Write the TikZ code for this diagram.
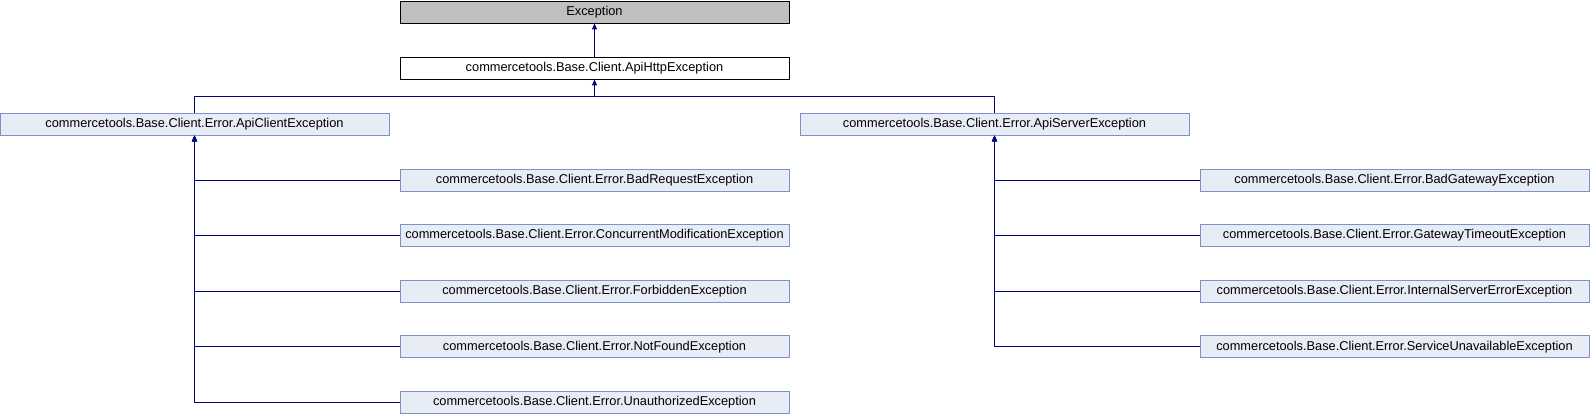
\documentclass[tikz,border=0pt]{standalone}
\usepackage{fontspec}
\setmainfont{Liberation Sans}
\usetikzlibrary{arrows.meta}
\definecolor{clsfill}{RGB}{232, 236, 245}
\definecolor{clsdraw}{RGB}{124, 146, 201}
\definecolor{basefill}{RGB}{191, 191, 191}
\definecolor{edgeblue}{RGB}{0, 0, 128}

\begin{document}
\begin{tikzpicture}[
  x=1pt, y=-1pt,
  every node/.style={font=\fontsize{12.8}{14}\selectfont, minimum width=389pt, minimum height=22pt, inner sep=0pt, line width=0.9pt},
  cls/.style={draw=clsdraw, fill=clsfill},
  root/.style={draw=black, fill=basefill},
  cur/.style={draw=black, fill=white},
  arr/.style={-{Triangle[length=6pt, width=5pt]}, line width=1pt, edgeblue},
  lnk/.style={line width=1pt, edgeblue}
]
  \useasboundingbox (0, 0) rectangle (1590, 416);

  \node[root] (exc)  at (594.5, 12)   {Exception};
  \node[cur]  (http) at (594.5, 68)   {commercetools.Base.Client.ApiHttpException};
  \node[cls]  (cli)  at (194.5, 124)  {commercetools.Base.Client.Error.ApiClientException};
  \node[cls]  (srv)  at (994.5, 124)  {commercetools.Base.Client.Error.ApiServerException};

  % client errors
  \node[cls] (badreq)   at (594.5, 180)   {commercetools.Base.Client.Error.BadRequestException};
  \node[cls] (concmod)  at (594.5, 235.6) {commercetools.Base.Client.Error.ConcurrentModificationException};
  \node[cls] (forbid)   at (594.5, 291.2) {commercetools.Base.Client.Error.ForbiddenException};
  \node[cls] (notfound) at (594.5, 346.8) {commercetools.Base.Client.Error.NotFoundException};
  \node[cls] (unauth)   at (594.5, 402.4) {commercetools.Base.Client.Error.UnauthorizedException};

  % server errors
  \node[cls] (badgw)    at (1394.5, 180)   {commercetools.Base.Client.Error.BadGatewayException};
  \node[cls] (gwtime)   at (1394.5, 235.6) {commercetools.Base.Client.Error.GatewayTimeoutException};
  \node[cls] (intsrv)   at (1394.5, 291.2) {commercetools.Base.Client.Error.InternalServerErrorException};
  \node[cls] (unavail)  at (1394.5, 346.8) {commercetools.Base.Client.Error.ServiceUnavailableException};

  \coordinate (split) at (594.5, 96.5);

  \draw[arr] (http.north) -- (exc.south);
  \draw[arr] (split) -- (http.south);
  \draw[lnk] (cli.north) |- (split) -| (srv.north);

  \draw[arr] (badreq.west)   -| (cli.south);
  \draw[arr] (concmod.west)  -| (cli.south);
  \draw[arr] (forbid.west)   -| (cli.south);
  \draw[arr] (notfound.west) -| (cli.south);
  \draw[arr] (unauth.west)   -| (cli.south);

  \draw[arr] (badgw.west)   -| (srv.south);
  \draw[arr] (gwtime.west)  -| (srv.south);
  \draw[arr] (intsrv.west)  -| (srv.south);
  \draw[arr] (unavail.west) -| (srv.south);
\end{tikzpicture}
\end{document}
